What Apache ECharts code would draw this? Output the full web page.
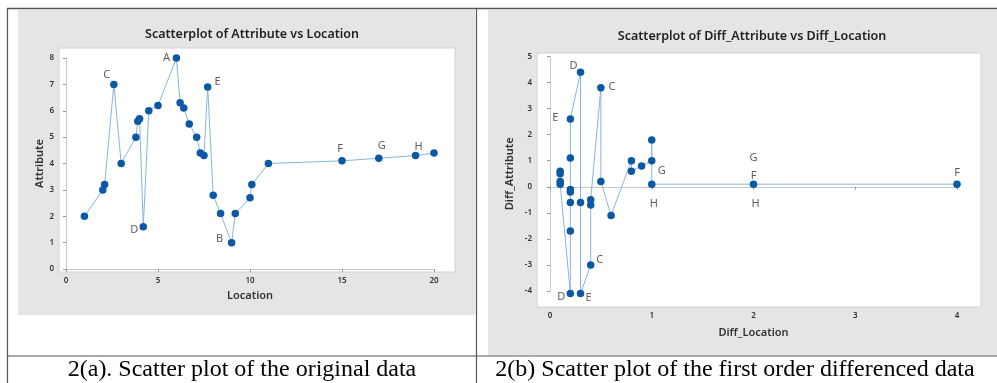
<!DOCTYPE html>
<html>
<head>
<meta charset="utf-8">
<script src="https://cdn.jsdelivr.net/npm/echarts@6/dist/echarts.min.js"></script>
<style>
  html, body { margin: 0; padding: 0; background: #fff; }
  #main { width: 997px; height: 383px; }
</style>
</head>
<body>
<div id="main"></div>
<script>
    // 2(a) 原始数据: Location, Attribute
    const locationVals = [1, 2, 2.1, 2.6, 3, 3.8, 3.9, 4.0, 4.2, 4.5, 5, 6, 6.2, 6.4, 6.7, 7.1, 7.3, 7.5, 7.7, 8, 8.4, 9, 9.2, 10, 10.1, 11, 15, 17, 19, 20];
    const attributeVals = [2, 3, 3.2, 7, 4, 5, 5.6, 5.7, 1.6, 6, 6.2, 8, 6.3, 6.1, 5.5, 5, 4.4, 4.3, 6.9, 2.8, 2.1, 1, 2.1, 2.7, 3.2, 4, 4.1, 4.2, 4.3, 4.4];

    // 2(b) 一阶差分 (按 Diff_Location 排序连线)
    const diffLocation = [0.1, 0.1, 0.1, 0.1, 0.2, 0.2, 0.2, 0.2, 0.2, 0.2, 0.2, 0.3, 0.3, 0.3, 0.4, 0.4, 0.4, 0.5, 0.5, 0.6, 0.8, 0.8, 0.9, 1, 1, 1, 2, 4];
    const diffAttribute = [0.6, 0.5, 0.2, 0.1, -4.1, -1.7, -0.6, -0.2, -0.1, 1.1, 2.6, 4.4, -0.6, -4.1, -3, -0.7, -0.5, 3.8, 0.2, -1.1, 1.0, 0.6, 0.8, 1.0, 1.8, 0.1, 0.1, 0.1];

    // 标注点 [文字, x, y]
    const labelsA = [['A', 6, 8], ['C', 2.6, 7], ['E', 7.7, 6.9], ['D', 4.2, 1.6], ['B', 9, 1], ['F', 15, 4.1], ['G', 17, 4.2], ['H', 19, 4.3]];
    const labelsB = [['D', 0.2, -4.1], ['E', 0.3, -4.1], ['C', 0.4, -3], ['C', 0.5, 3.8], ['D', 0.3, 4.4], ['E', 0.2, 2.6],
        ['G', 1, 1.0], ['H', 1, 0.1], ['G', 2, 0.1], ['F', 2, 0.1], ['H', 2, 0.1], ['F', 4, 0.1]];

    // 标注文字相对点的偏移 (px)
    const offsA = [[-10, 0], [-7, -10], [10, -5], [-9, 3], [-12, -4], [-2, -12], [3, -12], [3, -9]];
    const offsB = [[-9, 3], [8, 4], [9, -5], [11, -1], [-7, -6], [-15, -1], [10, 10], [2, 20], [0, -26], [0, -8], [2, 20], [0, -11]];

    const lineColor = '#8ab4e0';
    const dotColor = '#0b58a6';
    const uiFont = 'Noto Sans';

    function pairs(xs, ys) {
        return xs.map((x, i) => [x, ys[i]]);
    }

    function labelData(list, offs) {
        return list.map((l, i) => ({
            value: [l[1], l[2]],
            label: { formatter: l[0], offset: offs[i] }
        }));
    }

    function axisCommon(extra) {
        return Object.assign({
            type: 'value',
            nameLocation: 'middle',
            nameTextStyle: { fontFamily: uiFont, fontSize: 11, fontWeight: 600, color: '#333' },
            axisLine: { show: true, lineStyle: { color: '#c8c8c8', width: 1 } },
            axisTick: { show: true, length: 3, lineStyle: { color: '#999' } },
            axisLabel: { fontFamily: uiFont, fontSize: 8, fontWeight: 600, color: '#333', margin: 5 },
            splitLine: { show: false }
        }, extra);
    }

    const chart = echarts.init(document.getElementById('main'));

    const lineSeries = {
        type: 'line',
        symbol: 'circle',
        symbolSize: 7.5,
        clip: false,
        lineStyle: { color: lineColor, width: 1 },
        itemStyle: { color: dotColor },
        animation: false
    };

    const labelSeries = {
        type: 'scatter',
        symbolSize: 0,
        silent: true,
        clip: false,
        label: {
            show: true,
            position: 'inside',
            fontFamily: uiFont,
            fontSize: 11,
            color: '#333'
        },
        animation: false
    };

    chart.setOption({
        backgroundColor: '#fff',
        animation: false,
        title: [{
            text: 'Scatterplot of Attribute vs Location',
            left: 247, top: 23, textAlign: 'center',
            textStyle: { fontFamily: uiFont, fontSize: 12.5, fontWeight: 600, color: '#222' }
        }, {
            text: 'Scatterplot of Diff_Attribute vs Diff_Location',
            left: 747, top: 25, textAlign: 'center',
            textStyle: { fontFamily: uiFont, fontSize: 12.5, fontWeight: 600, color: '#222' }
        }],
        grid: [
            { left: 66, right: 563, top: 58, bottom: 114 },
            { left: 550, right: 40, top: 56.5, bottom: 92 }
        ],
        xAxis: [
            axisCommon({ gridIndex: 0, min: 0, max: 20, interval: 5, offset: 3, name: 'Location', nameGap: 17 }),
            axisCommon({ gridIndex: 1, min: 0, max: 4, interval: 1, offset: 16, name: 'Diff_Location', nameGap: 20 })
        ],
        yAxis: [
            axisCommon({ gridIndex: 0, min: 0, max: 8, interval: 1, offset: 7, name: 'Attribute', nameGap: 13 }),
            axisCommon({ gridIndex: 1, min: -4, max: 5, interval: 1, offset: 13, name: 'Diff_Attribute', nameGap: 22 })
        ],
        graphic: [
            // 灰色面板
            { type: 'rect', z: -10, shape: { x: 18, y: 10, width: 457, height: 305 }, style: { fill: '#e5e5e5' } },
            { type: 'rect', z: -10, shape: { x: 488, y: 10, width: 509, height: 345 }, style: { fill: '#e5e5e5' } },
            // 绘图区
            { type: 'rect', z: -9, shape: { x: 59, y: 48, width: 396, height: 224 }, style: { fill: '#fff', stroke: '#d2d2d2', lineWidth: 1 } },
            { type: 'rect', z: -9, shape: { x: 537, y: 53, width: 444, height: 254 }, style: { fill: '#fff', stroke: '#d2d2d2', lineWidth: 1 } },
            // 表格线
            { type: 'line', z: 10, shape: { x1: 7, y1: 8.5, x2: 997, y2: 8.5 }, style: { stroke: '#555', lineWidth: 1.5 } },
            { type: 'line', z: 10, shape: { x1: 7.5, y1: 8, x2: 7.5, y2: 383 }, style: { stroke: '#555', lineWidth: 1.2 } },
            { type: 'line', z: 10, shape: { x1: 476.5, y1: 8, x2: 476.5, y2: 383 }, style: { stroke: '#555', lineWidth: 1.2 } },
            { type: 'line', z: 10, shape: { x1: 7, y1: 356, x2: 997, y2: 356 }, style: { stroke: '#555', lineWidth: 1.2 } },
            // 图注
            { type: 'text', z: 10, x: 242, y: 370, style: { text: '2(a). Scatter plot of the original data', fontFamily: 'Liberation Serif', fontSize: 24, fill: '#000', textAlign: 'center', textVerticalAlign: 'middle' } },
            { type: 'text', z: 10, x: 735, y: 370, style: { text: '2(b) Scatter plot of the first order differenced data', fontFamily: 'Liberation Serif', fontSize: 24, fill: '#000', textAlign: 'center', textVerticalAlign: 'middle' } }
        ],
        series: [
            Object.assign({}, lineSeries, { xAxisIndex: 0, yAxisIndex: 0, data: pairs(locationVals, attributeVals) }),
            Object.assign({}, lineSeries, { xAxisIndex: 1, yAxisIndex: 1, data: pairs(diffLocation, diffAttribute) }),
            Object.assign({}, labelSeries, { xAxisIndex: 0, yAxisIndex: 0, data: labelData(labelsA, offsA) }),
            Object.assign({}, labelSeries, { xAxisIndex: 1, yAxisIndex: 1, data: labelData(labelsB, offsB) })
        ]
    });
</script>
</body>
</html>
